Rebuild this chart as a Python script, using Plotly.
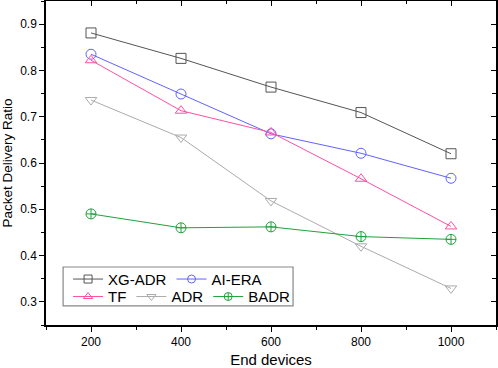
import plotly.graph_objects as go

end_devices = [200, 400, 600, 800, 1000]
xg_adr = [0.881, 0.826, 0.764, 0.709, 0.620]
ai_era = [0.835, 0.749, 0.663, 0.621, 0.567]
tf = [0.822, 0.713, 0.666, 0.566, 0.463]
adr = [0.736, 0.655, 0.518, 0.420, 0.329]
badr = [0.490, 0.460, 0.462, 0.441, 0.435]

series = [
    ("XG-ADR", xg_adr, "#555555", "square-open", "legend"),
    ("AI-ERA", ai_era, "#6262ff", "circle-open", "legend"),
    ("TF", tf, "#ff4fa3", "triangle-up-open", "legend2"),
    ("ADR", adr, "#ababab", "triangle-down-open", "legend2"),
    ("BADR", badr, "#1fa23c", "circle-cross-open", "legend2"),
]

fig = go.Figure()
for name, vals, color, sym, lg in series:
    fig.add_trace(go.Scatter(
        x=end_devices, y=vals, name=name, mode="lines+markers",
        line=dict(color=color, width=1),
        marker=dict(symbol=sym, size=10, color=color, line=dict(width=1, color=color)),
        showlegend=False,
    ))
# legend entries (smaller symbols, as in the reference legend)
for name, vals, color, sym, lg in series:
    fig.add_trace(go.Scatter(
        x=[None], y=[None], name=name, mode="lines+markers",
        line=dict(color=color, width=1),
        marker=dict(symbol=sym, size=8, color=color, line=dict(width=1, color=color)),
        legend=lg, hoverinfo="skip",
    ))

font = dict(family="Liberation Sans, Arial, sans-serif", color="black")
axis_common = dict(showline=True, linecolor="black", linewidth=1.5, showgrid=False,
                   zeroline=False, ticks="outside", ticklen=5, tickwidth=1.2, tickcolor="black",
                   automargin=False, tickfont=dict(size=12, **font))
mirror_common = dict(showline=True, linecolor="black", linewidth=1.5, showgrid=False,
                     zeroline=False, ticks="inside", ticklen=5, tickwidth=1.2, tickcolor="black",
                     showticklabels=False, automargin=False)

fig.update_layout(
    width=498, height=368,
    margin=dict(l=46, r=2, t=1, b=43),
    paper_bgcolor="white", plot_bgcolor="white",
    font=font,
    xaxis=dict(range=[100, 1100], tickvals=[200, 400, 600, 800, 1000],
               minor=dict(dtick=100, tick0=100, ticks="outside", ticklen=3, tickcolor="black"),
               title=dict(text="End devices", font=dict(size=15, **font), standoff=13),
               **axis_common),
    yaxis=dict(range=[0.25, 0.95], tickvals=[0.3, 0.4, 0.5, 0.6, 0.7, 0.8, 0.9],
               tickformat=".1f",
               minor=dict(dtick=0.05, tick0=0.25, ticks="outside", ticklen=3, tickcolor="black"),
               title=dict(text="Packet Delivery Ratio", font=dict(size=13.5, **font), standoff=7),
               **axis_common),
    xaxis2=dict(overlaying="x", side="top", range=[100, 1100],
                tickvals=[200, 400, 600, 800, 1000],
                minor=dict(dtick=100, tick0=100, ticks="inside", ticklen=3, tickcolor="black"),
                **mirror_common),
    yaxis2=dict(overlaying="y", side="right", range=[0.25, 0.95],
                tickvals=[0.3, 0.4, 0.5, 0.6, 0.7, 0.8, 0.9],
                minor=dict(dtick=0.05, tick0=0.25, ticks="inside", ticklen=4, tickcolor="black"),
                **mirror_common),
    legend=dict(orientation="h", x=0.049, xanchor="left", y=0.192, yanchor="top",
                bgcolor="rgba(0,0,0,0)", borderwidth=0, font=dict(size=15, **font),
                tracegroupgap=0),
    legend2=dict(orientation="h", x=0.049, xanchor="left", y=0.138, yanchor="top",
                 bgcolor="rgba(0,0,0,0)", borderwidth=0, font=dict(size=15, **font),
                 tracegroupgap=0),
    shapes=[dict(type="rect", xref="paper", yref="paper", x0=0.038, x1=0.549, y0=0.059, y1=0.179,
                 line=dict(color="#888888", width=1.2), fillcolor="rgba(0,0,0,0)", layer="below")],
    showlegend=True,
)
fig.add_trace(go.Scatter(x=[None], y=[None], xaxis="x2", yaxis="y2", showlegend=False, hoverinfo="skip"))

fig.write_html("out.html", config={"displayModeBar": False},
               post_script="document.body.style.margin='0';document.body.style.overflow='hidden';")
